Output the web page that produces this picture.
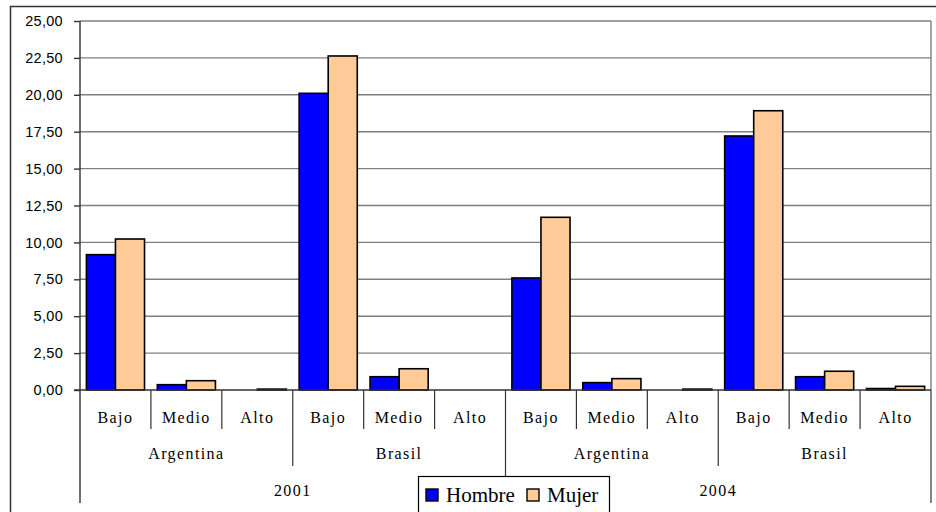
<!DOCTYPE html>
<html>
<head>
<meta charset="utf-8">
<script src="https://cdn.jsdelivr.net/npm/d3@7"></script>
<style>
  body { margin: 0; background: #fff; }
  svg { display: block; }
</style>
</head>
<body>
<div id="chart"></div>
<script>
// values
const years = ['2001', '2004']
const countries = ['Argentina', 'Brasil']
const levels = ['Bajo', 'Medio', 'Alto']
const series = ['Hombre', 'Mujer']
const hombre = [9.17, 0.36, 0, 20.1, 0.9, 0, 7.59, 0.5, 0, 17.21, 0.9, 0.1]
const mujer = [10.23, 0.63, 0.06, 22.63, 1.44, 0, 11.7, 0.77, 0.06, 18.92, 1.27, 0.25]
const yTicks = [0, 2.5, 5, 7.5, 10, 12.5, 15, 17.5, 20, 22.5, 25]

const colors = { Hombre: '#0000ff', Mujer: '#ffcc99' }

const W = 936
const H = 512
const plot = { left: 80, right: 931, top: 21, bottom: 390 }

const svg = d3
  .select('#chart')
  .append('svg')
  .attr('width', W)
  .attr('height', H)

// outer chart frame (runs past the right and bottom edges)
svg
  .append('rect')
  .attr('x', 10.5)
  .attr('y', 6.5)
  .attr('width', 960)
  .attr('height', 560)
  .attr('fill', '#fff')
  .attr('stroke', '#333')
  .attr('stroke-width', 1.5)

// one row per category: year > country > level
const rows = []
years.forEach(yr => {
  countries.forEach(ct => {
    levels.forEach(lv => {
      rows.push({ year: yr, country: ct, level: lv })
    })
  })
})
rows.forEach((r, i) => {
  r.id = i
  r.Hombre = hombre[i]
  r.Mujer = mujer[i]
})

const x = d3
  .scaleBand()
  .domain(rows.map(d => d.id))
  .range([plot.left, plot.right])

const xInner = d3
  .scaleBand()
  .domain(series)
  .range([0, x.bandwidth()])
  .paddingOuter(0.22)

const y = d3
  .scaleLinear()
  .domain([0, 25])
  .range([plot.bottom, plot.top])

// gridlines
svg
  .append('g')
  .selectAll('line')
  .data(yTicks.filter(d => d > 0))
  .enter()
  .append('line')
  .attr('x1', plot.left)
  .attr('x2', plot.right)
  .attr('y1', d => y(d))
  .attr('y2', d => y(d))
  .attr('stroke', '#808080')
  .attr('stroke-width', 1.4)

// right edge of plot area
svg
  .append('line')
  .attr('x1', plot.right)
  .attr('x2', plot.right)
  .attr('y1', plot.top)
  .attr('y2', plot.bottom)
  .attr('stroke', '#808080')
  .attr('stroke-width', 1.4)

// bars
const groups = svg
  .append('g')
  .selectAll('g')
  .data(rows)
  .enter()
  .append('g')
  .attr('transform', d => 'translate(' + x(d.id) + ',0)')

groups
  .selectAll('rect')
  .data(d => series.map(s => ({ key: s, value: d[s] })).filter(v => v.value > 0))
  .enter()
  .append('rect')
  .attr('x', d => xInner(d.key))
  .attr('width', xInner.bandwidth())
  .attr('y', d => y(d.value))
  .attr('height', d => y(0) - y(d.value))
  .attr('fill', d => colors[d.key])
  .attr('stroke', '#000')
  .attr('stroke-width', 1.6)

// y axis
const yAxis = d3
  .axisLeft(y)
  .tickValues(yTicks)
  .tickSize(6)
  .tickPadding(11)
  .tickFormat(d => d3.format('.2f')(d).replace('.', ','))

const yg = svg
  .append('g')
  .attr('transform', 'translate(' + plot.left + ',0)')
  .call(yAxis)

yg.select('.domain').remove()
yg.selectAll('.tick line').attr('stroke', '#333').attr('stroke-width', 1.4)
yg.selectAll('.tick text')
  .attr('fill', '#000')
  .style('font-family', 'Liberation Sans, Arial, sans-serif')
  .style('font-size', '14.5px')
  .style('letter-spacing', '0.3px')

const lineColor = '#333'

// y axis line, running down through the category labels
svg
  .append('line')
  .attr('x1', plot.left)
  .attr('x2', plot.left)
  .attr('y1', plot.top)
  .attr('y2', 503)
  .attr('stroke', lineColor)
  .attr('stroke-width', 1.4)

// x axis baseline
svg
  .append('line')
  .attr('x1', plot.left - 6)
  .attr('x2', plot.right)
  .attr('y1', y(0))
  .attr('y2', y(0))
  .attr('stroke', lineColor)
  .attr('stroke-width', 1.4)

// separators of the three label levels
const sepBottom = [429, 466, 503]
rows.forEach((r, i) => {
  if (i === 0) return
  let lvl = 0
  if (i % 3 === 0) lvl = 1
  if (i % 6 === 0) lvl = 2
  svg
    .append('line')
    .attr('x1', x(r.id))
    .attr('x2', x(r.id))
    .attr('y1', y(0))
    .attr('y2', sepBottom[lvl])
    .attr('stroke', lineColor)
    .attr('stroke-width', 1.2)
})
svg
  .append('line')
  .attr('x1', plot.right)
  .attr('x2', plot.right)
  .attr('y1', y(0))
  .attr('y2', sepBottom[2])
  .attr('stroke', lineColor)
  .attr('stroke-width', 1.2)

const labelFont = 'Liberation Serif, Times New Roman, serif'

function label(text, cx, baseline) {
  svg
    .append('text')
    .attr('x', cx)
    .attr('y', baseline)
    .attr('text-anchor', 'middle')
    .style('font-family', labelFont)
    .style('font-size', '16px')
    .style('letter-spacing', '1.4px')
    .text(text)
}

rows.forEach(r => label(r.level, x(r.id) + x.bandwidth() / 2, 423))

for (let g = 0; g < 4; g++) {
  const a = x(g * 3)
  const b = x(g * 3 + 2) + x.bandwidth()
  label(rows[g * 3].country, (a + b) / 2, 459)
}
for (let g = 0; g < 2; g++) {
  const a = x(g * 6)
  const b = x(g * 6 + 5) + x.bandwidth()
  label(years[g], (a + b) / 2, 496)
}

// legend
const legend = svg.append('g').attr('transform', 'translate(418.5,476.5)')
legend
  .append('rect')
  .attr('width', 191)
  .attr('height', 60)
  .attr('fill', '#fff')
  .attr('stroke', '#000')
  .attr('stroke-width', 1.2)

const legendX = [7.5, 108.5]
series.forEach((s, i) => {
  legend
    .append('rect')
    .attr('x', legendX[i])
    .attr('y', 12.5)
    .attr('width', 12)
    .attr('height', 12)
    .attr('fill', colors[s])
    .attr('stroke', '#000')
    .attr('stroke-width', 1.4)
  legend
    .append('text')
    .attr('x', legendX[i] + 20)
    .attr('y', 25.5)
    .style('font-family', labelFont)
    .style('font-size', '21px')
    .text(s)
})
</script>
</body>
</html>
